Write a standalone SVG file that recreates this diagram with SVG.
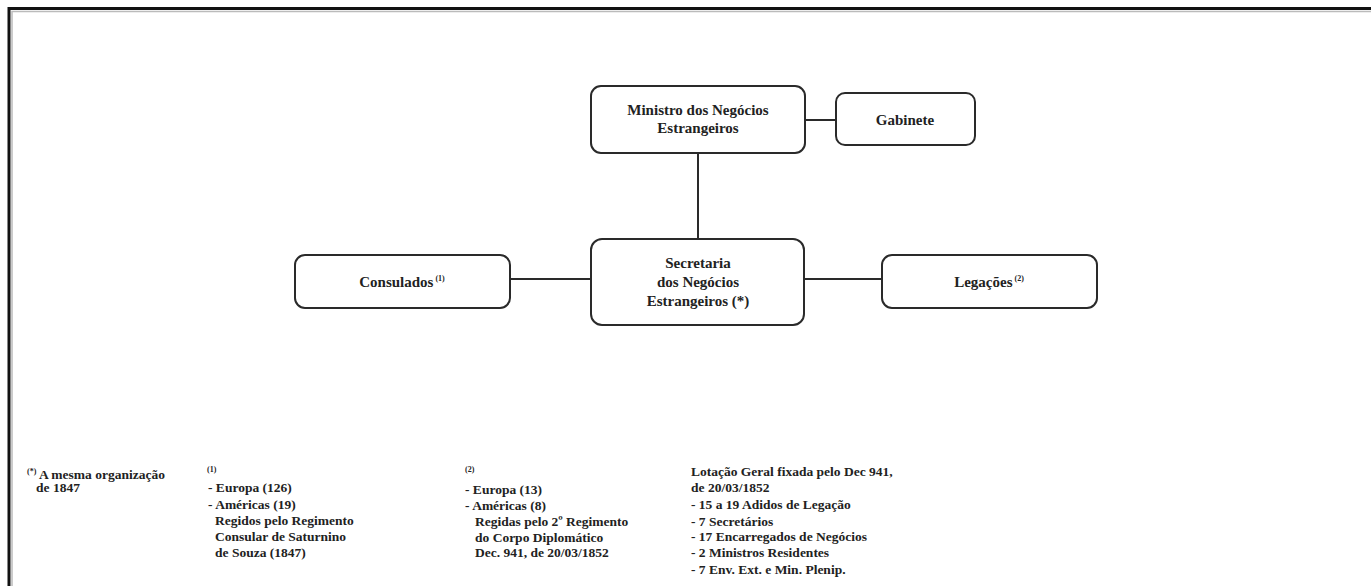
<svg xmlns="http://www.w3.org/2000/svg" width="1371" height="586" viewBox="0 0 1371 586">
<style>
.box{fill:#ffffff;stroke:#2a2a2a;stroke-width:2}
.bt{font-family:"Liberation Serif",serif;font-weight:bold;font-size:15px;fill:#222;text-anchor:middle}
.ft{font-family:"Liberation Serif",serif;font-weight:bold;font-size:13.5px;fill:#222}
.sup{font-size:8px}
.conn line{stroke:#2a2a2a;stroke-width:2}
</style>
<rect x="0" y="0" width="1371" height="586" fill="#ffffff"/>
<path d="M9 586 V8.5 H1371" fill="none" stroke="#111" stroke-width="3"/>
<path d="M12 586 V11.5 H1371" fill="none" stroke="#bbb" stroke-width="1.5"/>
<g class="conn">
<line x1="805" y1="120" x2="836" y2="120"/>
<line x1="698" y1="153" x2="698" y2="239"/>
<line x1="510" y1="279" x2="591" y2="279"/>
<line x1="804" y1="279" x2="882" y2="279"/>
</g>
<g id="ministro">
<rect class="box" x="591" y="86" width="214" height="67" rx="10"/>
<text class="bt" x="698" y="115">Ministro dos Negócios</text>
<text class="bt" x="698" y="133">Estrangeiros</text>
</g>
<g id="gabinete">
<rect class="box" x="836" y="93" width="139" height="52" rx="9"/>
<text class="bt" x="905" y="125">Gabinete</text>
</g>
<g id="secretaria">
<rect class="box" x="591" y="239" width="213" height="86" rx="11"/>
<text class="bt" x="698" y="268">Secretaria</text>
<text class="bt" x="698" y="287">dos Negócios</text>
<text class="bt" x="698" y="306">Estrangeiros (*)</text>
</g>
<g id="consulados">
<rect class="box" x="295" y="255" width="215" height="53" rx="10"/>
<text class="bt" x="402" y="287">Consulados<tspan class="sup" dy="-6"> (1)</tspan></text>
</g>
<g id="legacoes">
<rect class="box" x="882" y="255" width="215" height="53" rx="10"/>
<text class="bt" x="989" y="287">Legações<tspan class="sup" dy="-6"> (2)</tspan></text>
</g>
<g id="nota-asterisco">
<text class="ft" x="27" y="479"><tspan class="sup" dy="-5">(*)</tspan><tspan dy="5"> A mesma organização</tspan></text>
<text class="ft" x="36" y="492">de 1847</text>
</g>
<g id="nota-1">
<text class="ft sup" x="207" y="472">(1)</text>
<text class="ft" x="208" y="492">- Europa (126)</text>
<text class="ft" x="208" y="509">- Américas (19)</text>
<text class="ft" x="215" y="525">Regidos pelo Regimento</text>
<text class="ft" x="215" y="541">Consular de Saturnino</text>
<text class="ft" x="215" y="557">de Souza (1847)</text>
</g>
<g id="nota-2">
<text class="ft sup" x="465" y="472">(2)</text>
<text class="ft" x="465" y="494">- Europa (13)</text>
<text class="ft" x="465" y="510">- Américas (8)</text>
<text class="ft" x="475" y="526">Regidas pelo 2º Regimento</text>
<text class="ft" x="475" y="542">do Corpo Diplomático</text>
<text class="ft" x="475" y="557">Dec. 941, de 20/03/1852</text>
</g>
<g id="lotacao">
<text class="ft" x="691" y="476">Lotação Geral fixada pelo Dec 941,</text>
<text class="ft" x="691" y="492">de 20/03/1852</text>
<text class="ft" x="691" y="509">- 15 a 19 Adidos de Legação</text>
<text class="ft" x="691" y="526">- 7 Secretários</text>
<text class="ft" x="691" y="541">- 17 Encarregados de Negócios</text>
<text class="ft" x="691" y="557">- 2 Ministros Residentes</text>
<text class="ft" x="691" y="574">- 7 Env. Ext. e Min. Plenip.</text>
</g>
</svg>
